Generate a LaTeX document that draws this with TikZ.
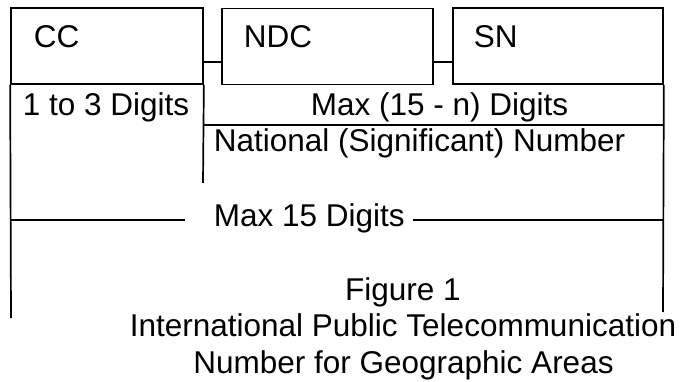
\documentclass[tikz,border=0pt]{standalone}
\usepackage{fontspec}
\setmainfont{Liberation Sans}
\begin{document}
\begin{tikzpicture}[x=1pt,y=-1pt,
  line width=1.7pt,
  fld/.style={draw, line width=1.7pt, inner sep=0pt, minimum width=#1, minimum height=76pt},
  txt/.style={inner sep=0pt, font=\fontsize{31.5}{38}\selectfont},
  lab/.style={txt, anchor=base west},
  captext/.style={txt, anchor=base}]
\useasboundingbox (0,0) rectangle (683,382);
% boxes
\node[fld=192pt] (CC) at (107,46) {};
\node[fld=211pt] (NDC) at (327.5,46.5) {};
\node[fld=210pt] (SN) at (558,46) {};
\node[lab] (tCC) at (33,48) {CC};
\node[lab] (tNDC) at (243,48) {NDC};
\node[lab] (tSN) at (473,48) {SN};
% connectors between boxes
\draw ([yshift=-16pt]CC.east) -- ([yshift=-16pt]NDC.west |- CC.east);
\draw ([yshift=-16pt]NDC.east |- CC.east) -- ([yshift=-16pt]SN.west);
% lower texts
\node[lab] (d13) at (22,116) {1 to 3 Digits};
\node[lab] (dmax) at (310,116) {Max (15 - n) Digits};
\node[lab] (nsn) at (213,152) {National (Significant) Number};
\node[lab] (m15) at (213,227) {Max 15 Digits};
% coordinates for lines
\coordinate (lb) at (11,318);
\coordinate (cb) at (203,183);
\coordinate (rb) at (663,312);
\coordinate (nl) at (203,125);
\coordinate (nr) at (663,125);
\coordinate (ml) at (11,220);
\coordinate (mle) at (185,220);
\coordinate (mrs) at (413,220);
\coordinate (mr) at (663,220);
% vertical lines
\draw (CC.south west) -- (lb);
\draw (CC.south east) -- (cb);
\draw (SN.south east) -- (rb);
% horizontal lines
\draw (nl) -- (nr);
\draw (ml) -- (mle);
\draw (mrs) -- (mr);
% caption
\node[captext] (f1) at (403,300) {Figure 1};
\node[captext] (f2) at (403,336) {International Public Telecommunication};
\node[captext] (f3) at (403.5,373) {Number for Geographic Areas};
\end{tikzpicture}
\end{document}
